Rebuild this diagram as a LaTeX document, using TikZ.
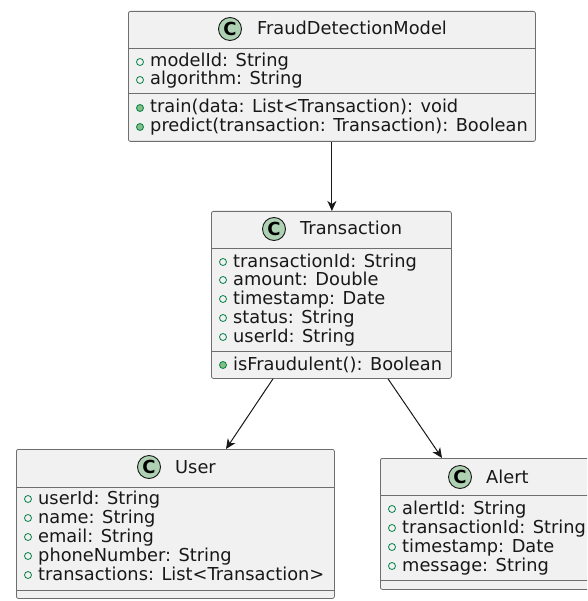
\documentclass[tikz,border=0pt]{standalone}
\usepackage{fontspec}
\setmainfont{DejaVu Sans}
\usetikzlibrary{arrows.meta,calc}
\definecolor{boxfill}{HTML}{F1F1F1}
\definecolor{boxline}{HTML}{6E6E6E}
\definecolor{cfill}{HTML}{ADD1B2}
\definecolor{icon}{HTML}{038048}
\definecolor{iconfill}{HTML}{84BE84}
\definecolor{ink}{HTML}{181818}
\tikzset{
  classbox/.style={draw=boxline, fill=boxfill, line width=0.8pt, rounded corners=2pt,
    anchor=north west, inner sep=0pt},
  divider/.style={draw=boxline, line width=0.8pt},
  member/.style={anchor=base west, inner sep=0pt, font=\fontsize{17.8}{19}\selectfont, text=ink},
  classname/.style={member},
  badge/.style={circle, draw=ink, fill=cfill, line width=0.9pt, minimum size=23pt,
    inner sep=0pt, font=\fontsize{18}{18}\selectfont\bfseries},
  field/.style={circle, draw=icon, line width=0.8pt, minimum size=7pt, inner sep=0pt},
  method/.style={field, fill=iconfill},
  assoc/.style={draw=ink, line width=1pt, -{Stealth[length=10pt,width=9pt,inset=3pt]}}
}
% one member line: name, left edge of box, row centre, icon style, text
\newcommand\umlrow[5]{%
  \node[#4] (#1-icon) at (#2+12, #3) {};
  \node[member] (#1) at (#2+22, #3+5) {#5};
}
\begin{document}
\begin{tikzpicture}[x=1pt, y=-1pt]
\useasboundingbox (0,0) rectangle (587,601);
\clip (0,0) rectangle (587,601);

% FraudDetectionModel
\node[classbox, minimum width=407pt, minimum height=130pt] (fdm) at (128,11) {};
\draw[divider] (128,48) -- (535,48);
\draw[divider] (128,93) -- (535,93);
\node[badge] (fdm-badge) at (230,29) {C};
\node[classname] (fdm-name) at (257,35) {FraudDetectionModel};
\umlrow{fdm-a1}{128}{62}{field}{modelId: String}
\umlrow{fdm-a2}{128}{80}{field}{algorithm: String}
\umlrow{fdm-m1}{128}{108}{method}{train(data: List<Transaction): void}
\umlrow{fdm-m2}{128}{127}{method}{predict(transaction: Transaction): Boolean}

% Transaction
\node[classbox, minimum width=240pt, minimum height=167pt] (trans) at (211,211) {};
\draw[divider] (211,248) -- (451,248);
\draw[divider] (211,351) -- (451,351);
\node[badge] (trans-badge) at (274,229) {C};
\node[classname] (trans-name) at (300,235) {Transaction};
\umlrow{trans-a1}{211}{262}{field}{transactionId: String}
\umlrow{trans-a2}{211}{280}{field}{amount: Double}
\umlrow{trans-a3}{211}{299}{field}{timestamp: Date}
\umlrow{trans-a4}{211}{318}{field}{status: String}
\umlrow{trans-a5}{211}{337}{field}{userId: String}
\umlrow{trans-m1}{211}{365}{method}{isFraudulent(): Boolean}

% User
\node[classbox, minimum width=318pt, minimum height=149pt] (user) at (16,449) {};
\draw[divider] (16,487) -- (334,487);
\draw[divider] (16,590) -- (334,590);
\node[badge] (user-badge) at (149,467) {C};
\node[classname] (user-name) at (175,473) {User};
\umlrow{user-a1}{16}{499}{field}{userId: String}
\umlrow{user-a2}{16}{518}{field}{name: String}
\umlrow{user-a3}{16}{537}{field}{email: String}
\umlrow{user-a4}{16}{556}{field}{phoneNumber: String}
\umlrow{user-a5}{16}{575}{field}{transactions: List<Transaction>}

% Alert
\node[classbox, minimum width=220pt, minimum height=131pt] (alert) at (380,458) {};
\draw[divider] (380,495) -- (600,495);
\draw[divider] (380,580) -- (600,580);
\node[badge] (alert-badge) at (460,477) {C};
\node[classname] (alert-name) at (486,483) {Alert};
\umlrow{alert-a1}{380}{509}{field}{alertId: String}
\umlrow{alert-a2}{380}{528}{field}{transactionId: String}
\umlrow{alert-a3}{380}{547}{field}{timestamp: Date}
\umlrow{alert-a4}{380}{566}{field}{message: String}

% associations
\draw[assoc] (fdm.south) -- (fdm.south |- trans.north);
\draw[assoc] ($(trans.south west)+(62,0)$) -- ($(user.north west)+(210,0)$);
\draw[assoc] ($(trans.south west)+(177,0)$) -- ($(alert.north west)+(62,0)$);
\end{tikzpicture}
\end{document}
